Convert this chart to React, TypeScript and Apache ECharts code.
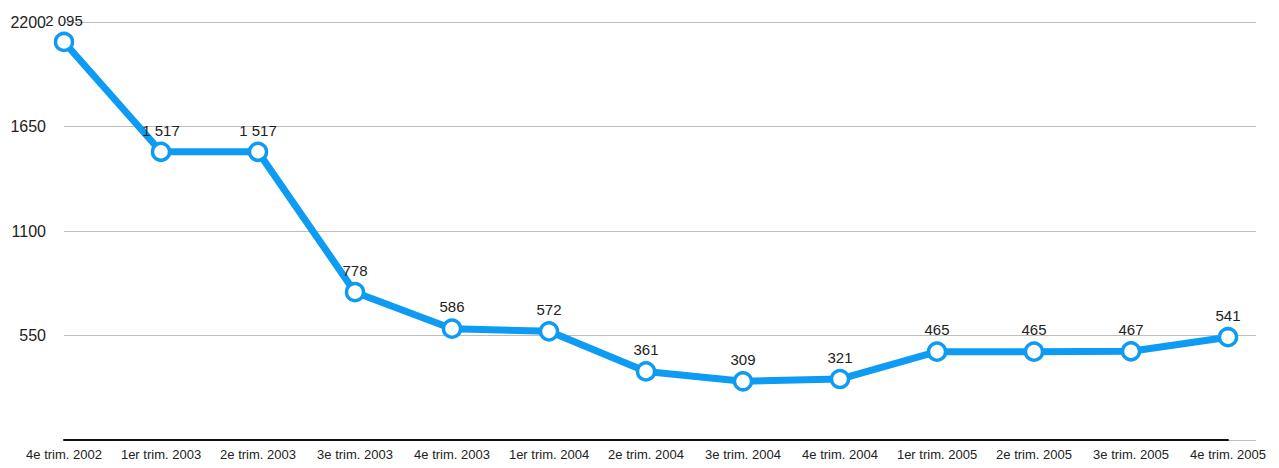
import React, { useEffect, useRef } from "react";
import * as echarts from "echarts";

const categories = [
  "4e trim. 2002",
  "1er trim. 2003",
  "2e trim. 2003",
  "3e trim. 2003",
  "4e trim. 2003",
  "1er trim. 2004",
  "2e trim. 2004",
  "3e trim. 2004",
  "4e trim. 2004",
  "1er trim. 2005",
  "2e trim. 2005",
  "3e trim. 2005",
  "4e trim. 2005",
];
const values = [2095, 1517, 1517, 778, 586, 572, 361, 309, 321, 465, 465, 467, 541];
const yTicks = [0, 550, 1100, 1650, 2200];

const FONT = "'Liberation Sans', Arial, Helvetica, sans-serif";

export default function App() {
  const ref = useRef<HTMLDivElement>(null);
  useEffect(() => {
    document.body.style.margin = "0";
    const chart = echarts.init(ref.current!, null, { renderer: "svg" });
    const yMin = yTicks[0];
    const yMax = yTicks[yTicks.length - 1];
    const step = yTicks[1] - yTicks[0];
    chart.setOption({
      animation: false,
      backgroundColor: "#fff",
      grid: [
        { left: 64, right: 23, top: 22, bottom: 28 },
        { left: 64, right: 51, top: 22, bottom: 28 },
      ],
      xAxis: [
        { type: "value", gridIndex: 0, show: false, min: 0, max: 1 },
        {
          type: "category",
          gridIndex: 1,
          data: categories,
          boundaryGap: false,
          axisLine: { show: true, lineStyle: { color: "#111", width: 2 } },
          axisTick: { show: false },
          axisLabel: { color: "#222", fontSize: 13, fontFamily: FONT, margin: 8, interval: 0 },
          splitLine: { show: false },
        },
      ],
      yAxis: [
        {
          type: "value",
          gridIndex: 0,
          min: yMin,
          max: yMax,
          interval: step,
          axisLine: { show: false },
          axisTick: { show: false },
          axisLabel: {
            color: "#222",
            fontSize: 16,
            fontFamily: FONT,
            margin: 18,
            formatter: (v: number) => (v === 0 ? "" : String(v)),
          },
          splitLine: { show: true, lineStyle: { color: "#bdbdbd", width: 1 } },
        },
        {
          type: "value",
          gridIndex: 1,
          min: yMin,
          max: yMax,
          interval: step,
          show: false,
          splitLine: { show: false },
        },
      ],
      series: [
        {
          type: "line",
          xAxisIndex: 1,
          yAxisIndex: 1,
          data: values,
          symbol: "circle",
          symbolSize: 17,
          lineStyle: { color: "#0d9bf3", width: 7 },
          itemStyle: { color: "#fff", borderColor: "#0d9bf3", borderWidth: 3.5 },
          label: {
            show: true,
            position: "top",
            distance: 4,
            color: "#222",
            fontSize: 15,
            fontFamily: FONT,
            formatter: (p: any) =>
              String(p.value).replace(/\B(?=(\d{3})+(?!\d))/g, " "),
          },
          z: 3,
        },
      ],
    });
    return () => chart.dispose();
  }, []);
  return <div ref={ref} style={{ width: 1279, height: 468 }} />;
}
